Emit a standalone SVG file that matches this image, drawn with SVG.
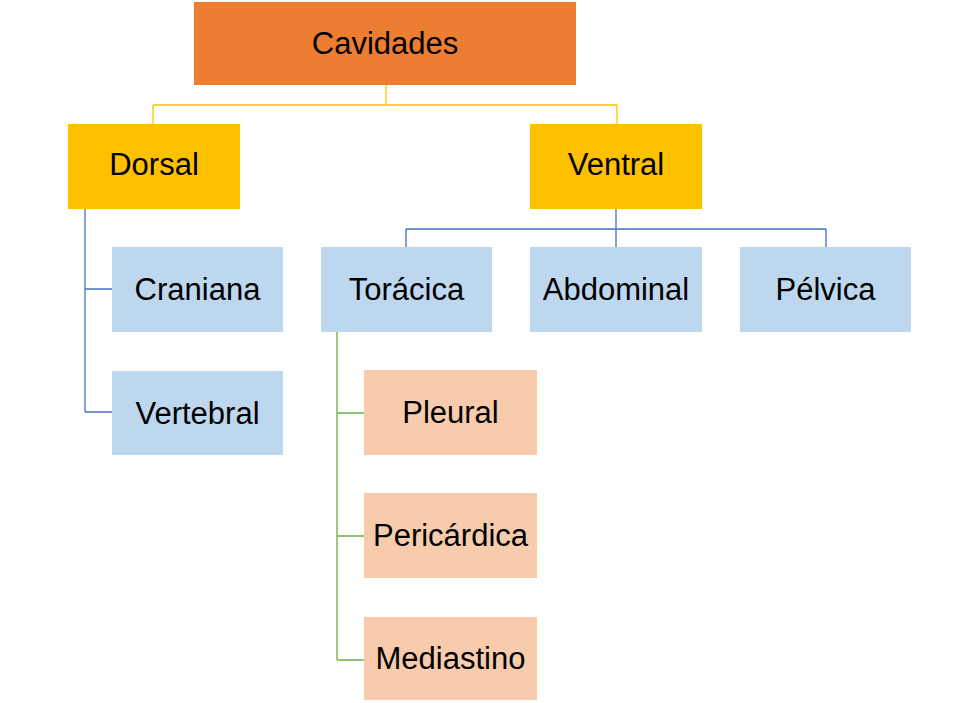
<svg xmlns="http://www.w3.org/2000/svg" width="980" height="703" viewBox="0 0 980 703">
<style>
text{font-family:"Liberation Sans",Arial,sans-serif;font-size:31px;fill:#000;text-anchor:middle}
.c{fill:none;stroke-width:1.3}
.y{stroke:#FFC000}.b{stroke:#4472C4}.g{stroke:#70AD47}
.or{fill:#ED7D31}.ye{fill:#FFC000}.bl{fill:#BDD7EE}.pe{fill:#F8CBAD}
</style>
<rect width="980" height="703" fill="#fff"/>
<g id="connectors">
<path class="c y" d="M386 85V105M153 105H617M153 105V124M617 105V124"/>
<path class="c b" d="M85 209V412M85 289H112M85 412H112"/>
<path class="c b" d="M616 209V247M406 229H826M406 229V247M826 229V247"/>
<path class="c g" d="M337 332V660M337 413H364M337 536H364M337 660H364"/>
</g>
<g id="cavidades"><rect class="or" x="194" y="2" width="382" height="83"/><text x="385" y="54">Cavidades</text></g>
<g id="dorsal"><rect class="ye" x="68" y="124" width="172" height="85"/><text x="154" y="175">Dorsal</text></g>
<g id="ventral"><rect class="ye" x="530" y="124" width="172" height="85"/><text x="616" y="175">Ventral</text></g>
<g id="craniana"><rect class="bl" x="112" y="247" width="171" height="85"/><text x="197.5" y="300">Craniana</text></g>
<g id="vertebral"><rect class="bl" x="112" y="371" width="171" height="84"/><text x="197.5" y="424">Vertebral</text></g>
<g id="toracica"><rect class="bl" x="321" y="247" width="171" height="85"/><text x="406.5" y="300">Torácica</text></g>
<g id="abdominal"><rect class="bl" x="530" y="247" width="172" height="85"/><text x="616" y="300">Abdominal</text></g>
<g id="pelvica"><rect class="bl" x="740" y="247" width="171" height="85"/><text x="825.5" y="300">Pélvica</text></g>
<g id="pleural"><rect class="pe" x="364" y="370" width="173" height="85"/><text x="450.5" y="423">Pleural</text></g>
<g id="pericardica"><rect class="pe" x="364" y="493" width="173" height="85"/><text x="450.5" y="546">Pericárdica</text></g>
<g id="mediastino"><rect class="pe" x="364" y="617" width="173" height="83"/><text x="450.5" y="669">Mediastino</text></g>
</svg>
